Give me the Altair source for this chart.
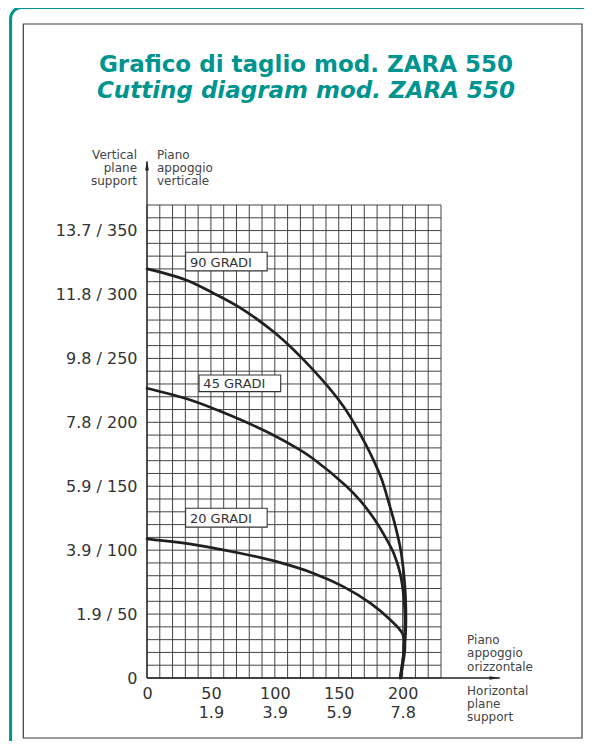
import altair as alt
import pandas as pd

# ---------------- data ----------------
x_max = 230
y_max = 370
grid_step = 10

x_ticks = [0, 50, 100, 150, 200]
x_labels_mm = ["0", "50", "100", "150", "200"]
x_labels_in = ["", "1.9", "3.9", "5.9", "7.8"]

y_ticks = [0, 50, 100, 150, 200, 250, 300, 350]
y_labels = ["0", "1.9 / 50", "3.9 / 100", "5.9 / 150", "7.8 / 200",
            "9.8 / 250", "11.8 / 300", "13.7 / 350"]

series_names = ["90 GRADI", "45 GRADI", "20 GRADI"]
deg90_x = [0, 30, 52, 73, 100, 130, 154, 171, 183, 189.5, 194, 198.5, 201.5, 202.5, 202, 198]
deg90_y = [320, 311.5, 301, 289.5, 270, 241, 212, 183, 157, 136, 120, 100, 75, 55, 30, 0]
deg45_x = [0, 34, 65, 96, 117, 130, 156, 167, 177, 186, 193, 198, 201, 201.8, 200.8, 198.5]
deg45_y = [226.7, 217.5, 205.5, 191.5, 180, 171.5, 150, 138.5, 125.5, 111, 97.6, 82, 62, 45, 20, 0]
deg20_x = [0, 39, 73, 101.5, 130, 153.6, 175, 190.5, 199.7, 201.8, 200, 198]
deg20_y = [108.8, 104, 97.6, 91, 82, 71.5, 58.4, 45.4, 35, 24.8, 10, 0]

# label boxes (data units)
box_x1 = [30.2, 40.7, 30.2]
box_x2 = [94, 104.6, 94]
box_y1 = [318.5, 224, 118]
box_y2 = [333, 237, 132.8]

title_1 = "Grafico di taglio mod. ZARA 550"
title_2 = "Cutting diagram mod. ZARA 550"

axis_notes = ["Vertical\nplane\nsupport",
              "Piano\nappoggio\nverticale",
              "Piano\nappoggio\norizzontale",
              "Horizontal\nplane\nsupport"]
axis_notes_x = [-7.8, 7.8, 250.4, 250.4]
axis_notes_y = [409.2, 409.2, 29.7, -9.9]
axis_notes_align = ["right", "left", "left", "left"]

FONT = "DejaVu Sans"
TEAL = "#009490"
INK = "#231f20"

# ---------------- tables ----------------
rows = []
for name, xs, ys in [(series_names[0], deg90_x, deg90_y),
                     (series_names[1], deg45_x, deg45_y),
                     (series_names[2], deg20_x, deg20_y)]:
    for i, (a, b) in enumerate(zip(xs, ys)):
        rows.append({"serie": name, "x": a, "y": b, "o": i})
curves = pd.DataFrame(rows)

boxes = pd.DataFrame({"name": series_names, "x1": box_x1, "x2": box_x2,
                      "y1": box_y1, "y2": box_y2,
                      "tx": [v + 3.4 for v in box_x1],
                      "ty": [(a + b) / 2 for a, b in zip(box_y1, box_y2)]})

vgrid = pd.DataFrame({"x": list(range(0, x_max + 1, grid_step))})
hgrid = pd.DataFrame({"y": list(range(0, y_max + 1, grid_step))})

notes = pd.DataFrame({"t": axis_notes, "x": axis_notes_x, "y": axis_notes_y,
                      "al": axis_notes_align})

xscale = alt.Scale(domain=[0, x_max], nice=False, zero=False)
yscale = alt.Scale(domain=[0, y_max], nice=False, zero=False)


def ternary(vals, labs, default):
    expr = default
    for v, l in reversed(list(zip(vals, labs))):
        expr = f"datum.value == {v} ? {l} : ({expr})"
    return expr


y_expr = ternary(y_ticks, [f"'{l}'" for l in y_labels], "''")
x_expr = ternary(x_ticks,
                 [f"'{a}'" if b == "" else f"['{a}', '{b}']"
                  for a, b in zip(x_labels_mm, x_labels_in)], "''")

x_axis = alt.Axis(values=x_ticks, labelExpr=x_expr, grid=False, ticks=False,
                  domain=False, title=None, labelFont=FONT, labelFontSize=16,
                  labelColor="#333333", labelPadding=7, labelLineHeight=19,
                  labelFlush=False, labelOverlap=False)
y_axis = alt.Axis(values=y_ticks, labelExpr=y_expr, grid=False, ticks=False,
                  domain=False, title=None, labelFont=FONT, labelFontSize=16,
                  labelColor="#333333", labelPadding=10, labelFlush=False,
                  labelOverlap=False)

one = pd.DataFrame({"k": [0]})

# decorative page frames
teal_frame = alt.Chart(one).mark_rect(
    fillOpacity=0, stroke=TEAL, strokeWidth=3, cornerRadiusTopLeft=11
).encode(x=alt.value(-136.4), x2=alt.value(600), y=alt.value(-197.5), y2=alt.value(600))

inner_frame = alt.Chart(one).mark_rect(
    fillOpacity=0, stroke="#3c3c3c", strokeWidth=1.2
).encode(x=alt.value(-123.7), x2=alt.value(435), y=alt.value(-181), y2=alt.value(533))

title_a = alt.Chart(pd.DataFrame({"t": [title_1]})).mark_text(
    font=FONT, fontSize=23, fontWeight="bold", color=TEAL, align="center",
    baseline="alphabetic"
).encode(text="t:N", x=alt.value(159), y=alt.value(-133))
title_b = alt.Chart(pd.DataFrame({"t": [title_2]})).mark_text(
    font=FONT, fontSize=23, fontWeight="bold", fontStyle="italic", color=TEAL,
    align="center", baseline="alphabetic"
).encode(text="t:N", x=alt.value(159), y=alt.value(-107))

vlines = alt.Chart(vgrid).mark_rule(color="#444444", strokeWidth=1).encode(
    x=alt.X("x:Q", scale=xscale, axis=x_axis),
    y=alt.datum(0, scale=yscale), y2=alt.datum(y_max))
hlines = alt.Chart(hgrid).mark_rule(color="#444444", strokeWidth=1).encode(
    y=alt.Y("y:Q", scale=yscale, axis=y_axis),
    x=alt.datum(0, scale=xscale), x2=alt.datum(x_max))

# axis arrows
yaxis_line = alt.Chart(one).mark_rule(color="#222", strokeWidth=1.3).encode(
    x=alt.datum(0, scale=xscale), y=alt.datum(0, scale=yscale), y2=alt.datum(404))
xaxis_line = alt.Chart(one).mark_rule(color="#222", strokeWidth=1.3).encode(
    y=alt.datum(0, scale=yscale), x=alt.datum(0, scale=xscale), x2=alt.datum(276))
up_arrow = alt.Chart(one).mark_point(
    shape="M0,-1L0.35,1L-0.35,1Z", filled=True, color="#222", size=110, opacity=1
).encode(x=alt.datum(0, scale=xscale), y=alt.datum(401, scale=yscale))
right_arrow = alt.Chart(one).mark_point(
    shape="M1,0L-1,-0.35L-1,0.35Z", filled=True, color="#222", size=110, opacity=1
).encode(x=alt.datum(272, scale=xscale), y=alt.datum(0, scale=yscale))

lines = alt.Chart(curves).mark_line(color=INK, strokeWidth=2.7, strokeCap="round",
                                    strokeJoin="round", interpolate="catmull-rom").encode(
    x=alt.X("x:Q", scale=xscale),
    y=alt.Y("y:Q", scale=yscale),
    detail="serie:N",
    order="o:Q")

box_rects = alt.Chart(boxes).mark_rect(fill="white", stroke="#333", strokeWidth=1.1).encode(
    x=alt.X("x1:Q", scale=xscale), x2="x2:Q",
    y=alt.Y("y1:Q", scale=yscale), y2="y2:Q")
box_text = alt.Chart(boxes).mark_text(font=FONT, fontSize=13, color="#333",
                                      align="left", baseline="middle", dy=1).encode(
    x=alt.X("tx:Q", scale=xscale), y=alt.Y("ty:Q", scale=yscale), text="name:N")

note_left = alt.Chart(notes[notes["al"] == "right"]).mark_text(
    font=FONT, fontSize=12, color="#444", align="right", baseline="middle",
    lineBreak="\n", lineHeight=13.3).encode(
    x=alt.X("x:Q", scale=xscale), y=alt.Y("y:Q", scale=yscale), text="t:N")
note_right = alt.Chart(notes[notes["al"] == "left"]).mark_text(
    font=FONT, fontSize=12, color="#444", align="left", baseline="middle",
    lineBreak="\n", lineHeight=13.3).encode(
    x=alt.X("x:Q", scale=xscale), y=alt.Y("y:Q", scale=yscale), text="t:N")

chart = alt.layer(
    teal_frame, inner_frame, title_a, title_b,
    vlines, hlines, yaxis_line, xaxis_line, up_arrow, right_arrow,
    lines, box_rects, box_text, note_left, note_right
).properties(
    width=294, height=473,
    autosize=alt.AutoSizeParams(type="none"),
    padding={"left": 139, "top": 197, "right": 143, "bottom": 63},
    background="white"
).configure_view(stroke=None)

chart.save("out.html", embed_options={"renderer": "svg", "actions": False})
